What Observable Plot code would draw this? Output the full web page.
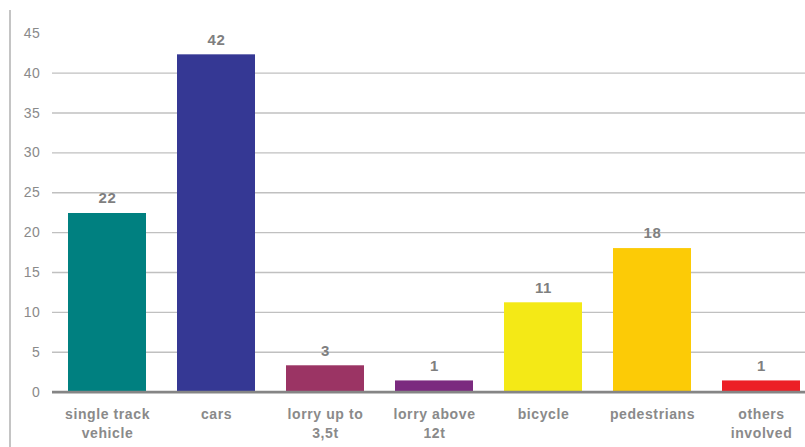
<!DOCTYPE html>
<html>
<head>
<meta charset="utf-8">
<script src="https://cdn.jsdelivr.net/npm/d3@7"></script>
<script src="https://cdn.jsdelivr.net/npm/@observablehq/plot@0.6"></script>
<style>
  html, body { margin: 0; padding: 0; background: #fff; }
  #wrap { position: relative; width: 805px; height: 447px; overflow: hidden; }
  #wrap::before { content: ""; position: absolute; left: 9px; top: 10px; width: 2px; height: 437px; background: #c4c4c4; }
  #wrap svg text { letter-spacing: 0.6px; }
</style>
</head>
<body>
<div id="wrap"></div>
<script>
const categories = ["single track vehicle", "cars", "lorry up to 3,5t", "lorry above 12t", "bicycle", "pedestrians", "others involved"];
const tickLabels = ["single track\nvehicle", "cars", "lorry up to\n3,5t", "lorry above\n12t", "bicycle", "pedestrians", "others\ninvolved"];
const values = [22.4, 42.3, 3.3, 1.4, 11.2, 18.0, 1.4];
const colors = ["#008080", "#353894", "#9b3464", "#7b2a7f", "#f4e916", "#fccb06", "#ec1f26"];
const yTicks = [0, 5, 10, 15, 20, 25, 30, 35, 40, 45];
const gridValues = [5, 10, 15, 20, 25, 30, 35, 40];

const data = categories.map((c, i) => ({category: c, value: values[i]}));
const labelOf = new Map(categories.map((c, i) => [c, tickLabels[i]]));

const chart = Plot.plot({
  width: 805,
  height: 447,
  marginLeft: 52,
  marginRight: 0,
  marginTop: 32.8,
  marginBottom: 55.4,
  style: {fontFamily: "'Liberation Sans', Arial, sans-serif", background: "transparent"},
  x: {domain: categories, range: [52.5, 815.5], paddingInner: 0.284, paddingOuter: 0.142, align: 0.5},
  y: {domain: [0, 45]},
  color: {domain: categories, range: colors},
  marks: [
    Plot.ruleY(gridValues, {stroke: "#c0c0c0", strokeWidth: 1.4}),
    Plot.barY(data, {x: "category", y: "value", fill: "category"}),
    Plot.ruleY([0], {stroke: "#858585", strokeWidth: 2.6}),
    Plot.text(data, {x: "category", y: "value", text: d => d3.format(".0f")(d.value), dy: -15, fontSize: 15, fontWeight: "bold", fill: "#7f7f7f"}),
    Plot.axisY({ticks: yTicks, tickSize: 0, tickPadding: 12, fontSize: 14, fill: "#8a8a8a", label: null}),
    Plot.axisX({tickSize: 0, tickPadding: 13, fontSize: 14, fontWeight: "bold", fill: "#8a8a8a", lineHeight: 1.38, tickFormat: d => labelOf.get(d), label: null})
  ]
});
document.getElementById("wrap").appendChild(chart);
</script>
</body>
</html>
